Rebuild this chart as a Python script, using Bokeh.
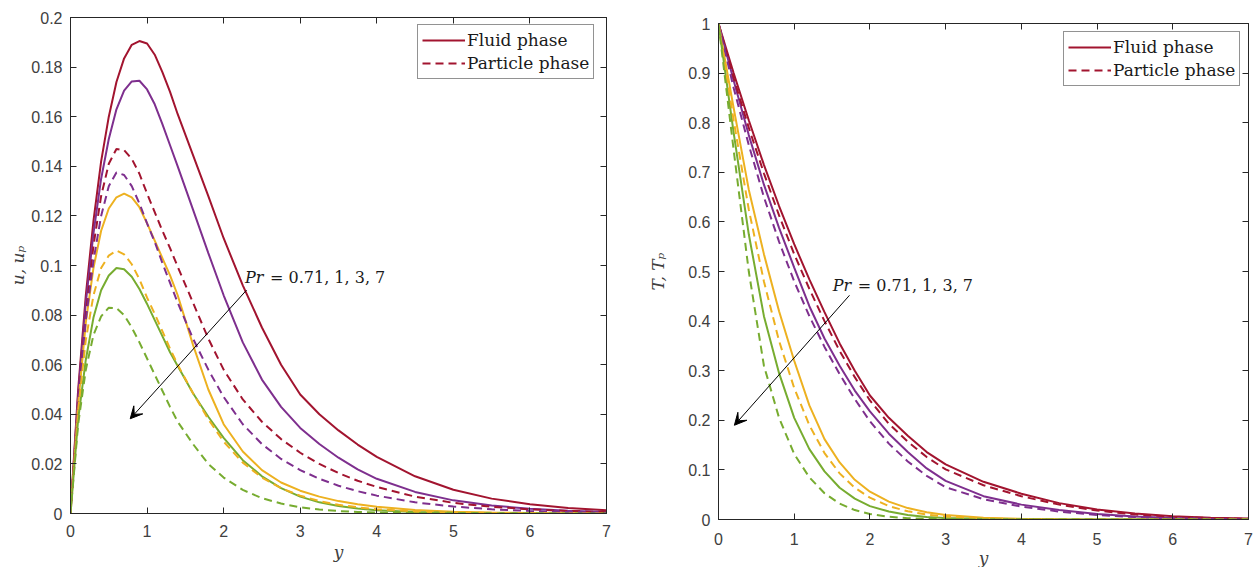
from bokeh.plotting import figure
from bokeh.models import (Range1d, FixedTicker, LinearAxis, Legend, LegendItem,
                          Arrow, VeeHead, Label, CustomJSTickFormatter)
from bokeh.embed import file_html
from bokeh.resources import INLINE

# ---------------- data ----------------
y_vel = [0, 0.1, 0.2, 0.3, 0.4, 0.5, 0.6, 0.7, 0.8, 0.9, 1.0, 1.1, 1.2, 1.3, 1.4, 1.6, 1.8,
         2.0, 2.25, 2.5, 2.75, 3.0, 3.25, 3.5, 3.75, 4.0, 4.5, 5.0, 5.5, 6.0, 6.5, 7.0]

u_fluid_Pr071 = [0, 0.050, 0.088, 0.118, 0.142, 0.160, 0.174, 0.1835, 0.189, 0.1905, 0.1895, 0.185, 0.178,
                 0.170, 0.161, 0.1445, 0.128, 0.111, 0.092, 0.075, 0.060, 0.048, 0.040, 0.0335, 0.0278,
                 0.0228, 0.0150, 0.0096, 0.006, 0.0037, 0.0022, 0.0013]
u_fluid_Pr1 = [0, 0.048, 0.085, 0.113, 0.135, 0.151, 0.163, 0.1705, 0.1742, 0.1745, 0.171, 0.165, 0.157,
               0.1485, 0.140, 0.1225, 0.105, 0.088, 0.069, 0.054, 0.043, 0.0345, 0.028, 0.0225, 0.0178,
               0.014, 0.0087, 0.0053, 0.0032, 0.0019, 0.0011, 0.0006]
u_fluid_Pr3 = [0, 0.044, 0.077, 0.099, 0.114, 0.123, 0.1275, 0.129, 0.1275, 0.1235, 0.117, 0.110, 0.103,
               0.096, 0.088, 0.068, 0.050, 0.036, 0.025, 0.0175, 0.0125, 0.0092, 0.0068, 0.005, 0.0037,
               0.0027, 0.0014, 0.0007, 0.0004, 0.0002, 0.0001, 0]
u_fluid_Pr7 = [0, 0.038, 0.062, 0.079, 0.090, 0.096, 0.099, 0.0985, 0.0955, 0.0905, 0.0845, 0.078, 0.0715,
               0.065, 0.0595, 0.0485, 0.039, 0.0305, 0.0215, 0.015, 0.0102, 0.0068, 0.0045, 0.003, 0.002,
               0.0013, 0.0006, 0.0003, 0.0001, 0, 0, 0]

u_part_Pr071 = [0, 0.045, 0.080, 0.108, 0.128, 0.141, 0.147, 0.1465, 0.143, 0.137, 0.129, 0.1215, 0.114,
                0.107, 0.0995, 0.085, 0.0705, 0.058, 0.046, 0.037, 0.030, 0.0245, 0.020, 0.0163, 0.0132,
                0.0107, 0.0068, 0.0043, 0.0027, 0.0017, 0.001, 0.0006]
u_part_Pr1 = [0, 0.044, 0.078, 0.102, 0.12, 0.132, 0.1375, 0.1365, 0.132, 0.125, 0.117, 0.1095, 0.101,
              0.093, 0.085, 0.0705, 0.058, 0.047, 0.036, 0.028, 0.022, 0.0175, 0.014, 0.0112, 0.009,
              0.0072, 0.0045, 0.0028, 0.0017, 0.0010, 0.0006, 0.0003]
u_part_Pr3 = [0, 0.042, 0.070, 0.088, 0.099, 0.104, 0.106, 0.1045, 0.1005, 0.0945, 0.087, 0.0805, 0.0735,
              0.0665, 0.060, 0.0485, 0.038, 0.029, 0.0205, 0.0145, 0.0102, 0.0072, 0.005, 0.0035, 0.0025,
              0.0017, 0.0008, 0.0004, 0.0002, 0.0001, 0, 0]
u_part_Pr7 = [0, 0.036, 0.058, 0.072, 0.0795, 0.083, 0.0828, 0.080, 0.075, 0.069, 0.0625, 0.056, 0.0495,
              0.043, 0.037, 0.028, 0.020, 0.0145, 0.0095, 0.0062, 0.004, 0.0025, 0.0016, 0.001, 0.0006,
              0.0004, 0.0002, 0.0001, 0, 0, 0, 0]

y_temp = [0, 0.2, 0.4, 0.6, 0.8, 1.0, 1.2, 1.4, 1.6, 1.8, 2.0, 2.25, 2.5, 2.75, 3.0,
          3.5, 4.0, 4.5, 5.0, 5.5, 6.0, 6.5, 7.0]

T_fluid_Pr071 = [1.0, 0.9, 0.805, 0.715, 0.632, 0.555, 0.484, 0.418, 0.355, 0.30, 0.25, 0.205, 0.169,
                 0.136, 0.111, 0.076, 0.052, 0.033, 0.02, 0.012, 0.0065, 0.0035, 0.002]
T_fluid_Pr1 = [1.0, 0.885, 0.775, 0.675, 0.588, 0.508, 0.43, 0.365, 0.31, 0.26, 0.218, 0.173, 0.136,
               0.103, 0.078, 0.047, 0.03, 0.019, 0.011, 0.006, 0.003, 0.0015, 0.0008]
T_fluid_Pr3 = [1.0, 0.83, 0.665, 0.535, 0.42, 0.32, 0.23, 0.162, 0.115, 0.08, 0.056, 0.036, 0.023,
               0.0145, 0.009, 0.0035, 0.0013, 0.0005, 0.0002, 0.0001, 0, 0, 0]
T_fluid_Pr7 = [1.0, 0.78, 0.575, 0.41, 0.295, 0.205, 0.142, 0.097, 0.064, 0.042, 0.027, 0.016, 0.009,
               0.005, 0.003, 0.001, 0.0004, 0.0001, 0, 0, 0, 0, 0]

T_part_Pr071 = [1.0, 0.89, 0.79, 0.698, 0.613, 0.535, 0.465, 0.40, 0.34, 0.287, 0.24, 0.193, 0.157,
                0.126, 0.101, 0.069, 0.047, 0.030, 0.018, 0.010, 0.0055, 0.003, 0.0015]
T_part_Pr1 = [1.0, 0.87, 0.755, 0.65, 0.56, 0.48, 0.41, 0.348, 0.293, 0.243, 0.198, 0.153, 0.117,
              0.088, 0.065, 0.041, 0.026, 0.016, 0.009, 0.005, 0.0025, 0.0012, 0.0006]
T_part_Pr3 = [1.0, 0.805, 0.625, 0.48, 0.36, 0.265, 0.19, 0.134, 0.093, 0.064, 0.044, 0.027, 0.0165,
              0.01, 0.006, 0.002, 0.0007, 0.0002, 0.0001, 0, 0, 0, 0]
T_part_Pr7 = [1.0, 0.745, 0.50, 0.31, 0.205, 0.132, 0.085, 0.053, 0.032, 0.019, 0.011, 0.0055, 0.0025,
              0.0011, 0.0005, 0.0001, 0, 0, 0, 0, 0, 0, 0]

x_ticks = [0, 1, 2, 3, 4, 5, 6, 7]
x_tick_labels = ["0", "1", "2", "3", "4", "5", "6", "7"]
u_ticks = [0, 0.02, 0.04, 0.06, 0.08, 0.1, 0.12, 0.14, 0.16, 0.18, 0.2]
u_tick_labels = ["0", "0.02", "0.04", "0.06", "0.08", "0.1", "0.12", "0.14", "0.16", "0.18", "0.2"]
T_ticks = [0, 0.1, 0.2, 0.3, 0.4, 0.5, 0.6, 0.7, 0.8, 0.9, 1]
T_tick_labels = ["0", "0.1", "0.2", "0.3", "0.4", "0.5", "0.6", "0.7", "0.8", "0.9", "1"]

series_colors = ["#A2142F", "#7E2F8E", "#EDB120", "#77AC30"]
legend_labels = ["Fluid phase", "Particle phase"]
annotation_text = "= 0.71, 1, 3, 7"

SERIF = "DejaVu Serif"
SANS = "Liberation Sans"
AX = "#262626"

# two independent roots placed side by side (no frame alignment between them)
TEMPLATE = """
{% from macros import embed %}
{% block postamble %}
<style>
html, body { margin: 0; padding: 0; overflow: hidden; }
.pair { display: flex; flex-direction: row; align-items: flex-start; }
</style>
{% endblock %}
{% block contents %}
<div class="pair">
{%- for doc in docs %}
{%- for root in doc.roots %}
{{ embed(root) }}
{%- endfor %}
{%- endfor %}
</div>
{% endblock %}
"""


def fmt(ticks, labels):
    return CustomJSTickFormatter(args=dict(tv=ticks, tl=labels), code="""
        const i = tv.findIndex(t => Math.abs(t - tick) < 1e-9);
        return i >= 0 ? tl[i] : '';
    """)


def make_panel(width, height, bl, bt, bb, br, y_end, yt, ytl, ylabel, ylabel_standoff,
               xl_standoff, xlab_standoff):
    p = figure(width=width, height=height, x_range=Range1d(0, 7), y_range=Range1d(0, y_end),
               output_backend="svg", toolbar_location=None,
               min_border_left=bl, min_border_top=bt, min_border_bottom=bb, min_border_right=br)
    p.grid.visible = False
    p.outline_line_color = AX
    p.outline_line_width = 1
    p.background_fill_color = "white"
    p.border_fill_color = "white"

    xa = p.xaxis[0]
    xa.ticker = FixedTicker(ticks=x_ticks)
    xa.formatter = fmt(x_ticks, x_tick_labels)
    ya = p.yaxis[0]
    ya.ticker = FixedTicker(ticks=yt)
    ya.formatter = fmt(yt, ytl)
    for a in (xa, ya):
        a.axis_line_color = AX
        a.major_tick_line_color = AX
        a.major_tick_in = 6
        a.major_tick_out = 0
        a.minor_tick_line_color = None
        a.major_label_text_font = SANS
        a.major_label_text_font_size = "16px"
        a.major_label_text_color = "#404040"
        a.axis_label_text_font = SERIF
        a.axis_label_text_font_style = "italic"
        a.axis_label_text_font_size = "17px"
        a.axis_label_text_color = "#404040"
    xa.axis_label = "y"
    xa.major_label_standoff = xl_standoff
    xa.axis_label_standoff = xlab_standoff
    ya.axis_label = ylabel
    ya.major_label_standoff = 8
    ya.axis_label_standoff = ylabel_standoff

    top = LinearAxis(ticker=FixedTicker(ticks=x_ticks), formatter=fmt(x_ticks, x_tick_labels))
    right = LinearAxis(ticker=FixedTicker(ticks=yt), formatter=fmt(yt, ytl))
    for a in (top, right):
        a.axis_line_color = AX
        a.major_tick_line_color = AX
        a.major_tick_in = 6
        a.major_tick_out = 0
        a.minor_tick_line_color = None
        a.major_label_text_font_size = "1px"
        a.major_label_text_color = None
        a.major_label_standoff = 0
    p.add_layout(top, "above")
    p.add_layout(right, "right")
    return p


def draw(p, x, fluids, parts, legend_loc):
    rs = []
    for vals, c in zip(fluids, series_colors):
        rs.append(p.line(x, vals, line_color=c, line_width=2))
    rd = []
    for vals, c in zip(parts, series_colors):
        rd.append(p.line(x, vals, line_color=c, line_width=2, line_dash="8 5"))
    leg = Legend(items=[LegendItem(label=legend_labels[0], renderers=[rs[0]]),
                        LegendItem(label=legend_labels[1], renderers=[rd[0]])],
                 location=legend_loc, margin=0, padding=4, spacing=1,
                 glyph_width=43, glyph_height=22, label_height=22, label_standoff=2,
                 label_text_font=SERIF, label_text_font_size="17px", label_text_color="#1a1a1a",
                 border_line_color=AX, border_line_width=1, background_fill_alpha=1)
    p.add_layout(leg)


def annotate(p, xs, ys, xe, ye, tx, ty):
    p.add_layout(Arrow(x_start=xs, y_start=ys, x_end=xe, y_end=ye, line_width=1, line_color="black",
                       end=VeeHead(size=12, fill_color="black", line_color="black", line_width=1)))
    p.add_layout(Label(x=tx, y=ty, text="Pr", text_font=SERIF, text_font_style="italic",
                       text_font_size="16px", text_color="#1a1a1a", text_baseline="alphabetic"))
    p.add_layout(Label(x=tx, y=ty, x_offset=25, text=annotation_text, text_font=SERIF,
                       text_font_size="16px", text_color="#1a1a1a", text_baseline="alphabetic"))


# left panel: velocity  (frame 70..606 x 17..513)
p1 = make_panel(612, 575, 70, 17, 62, 6, 0.2, u_ticks, u_tick_labels, "u, u\u209a", 0, 11, 2)
draw(p1, y_vel, [u_fluid_Pr071, u_fluid_Pr1, u_fluid_Pr3, u_fluid_Pr7],
     [u_part_Pr071, u_part_Pr1, u_part_Pr3, u_part_Pr7], (347, 434))
annotate(p1, 2.30, 0.0901, 0.78, 0.0382, 2.28, 0.095)

# right panel: temperature  (frame 718..1248 x 23..519)
p2 = make_panel(643, 575, 106, 23, 56, 7, 1.0, T_ticks, T_tick_labels, "T, T\u209a", 17, 13, 0)
draw(p2, y_temp, [T_fluid_Pr071, T_fluid_Pr1, T_fluid_Pr3, T_fluid_Pr7],
     [T_part_Pr071, T_part_Pr1, T_part_Pr3, T_part_Pr7], (345, 433))
annotate(p2, 1.73, 0.452, 0.21, 0.19, 1.51, 0.472)

open("out.html", "w").write(file_html([p1, p2], INLINE, template=TEMPLATE))
